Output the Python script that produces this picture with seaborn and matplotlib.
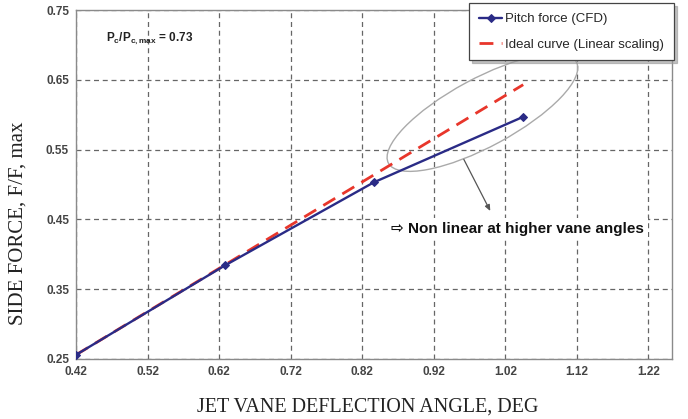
"""
Jet vane side force vs deflection angle (CFD vs ideal linear scaling)
"""
import numpy as np
import pandas as pd
import matplotlib
matplotlib.use("Agg")
import matplotlib.pyplot as plt
from matplotlib.patches import Ellipse
import seaborn as sns

# data
cfd_angle = [0.42, 0.628, 0.836, 1.045]
cfd_force = [0.256, 0.384, 0.503, 0.597]
ideal_angle = [0.42, 1.045]
ideal_force = [0.256, 0.643]
x_ticks = [0.42, 0.52, 0.62, 0.72, 0.82, 0.92, 1.02, 1.12, 1.22]
y_ticks = [0.25, 0.35, 0.45, 0.55, 0.65, 0.75]

sns.set_style("white")
plt.rcParams['font.family'] = ['Liberation Sans', 'DejaVu Sans']
plt.rcParams['mathtext.fontset'] = 'custom'
plt.rcParams['mathtext.bf'] = 'Liberation Sans:bold'
plt.rcParams['mathtext.rm'] = 'Liberation Sans'

cfd = pd.DataFrame({'angle': cfd_angle, 'force': cfd_force})
ideal = pd.DataFrame({'angle': ideal_angle, 'force': ideal_force})

fig = plt.figure(figsize=(6.88, 4.19), dpi=100)
ax = fig.add_axes([0.1105, 0.1432, 0.8663, 0.8329])

# Lines
sns.lineplot(data=ideal, x='angle', y='force', ax=ax, color='#e8362b',
             linewidth=2.0, dashes=False, label='Ideal curve (Linear scaling)',
             zorder=3)
ax.lines[-1].set_dashes([5, 3])
sns.lineplot(data=cfd, x='angle', y='force', ax=ax, color='#2a2b86',
             linewidth=1.7, marker='D', markersize=4.5,
             markeredgecolor='#2a2b86', label='Pitch force (CFD)', zorder=4)

# Axes
ax.set_xlim(0.42, 1.253)
ax.set_ylim(0.25, 0.75)
ax.set_xticks(x_ticks)
ax.set_yticks(y_ticks)
ax.set_xticklabels([f'{v:.2f}' for v in x_ticks])
ax.set_yticklabels([f'{v:.2f}' for v in y_ticks])
ax.tick_params(axis='both', direction='out', length=3, width=0.8,
               color='#777777', labelsize=8.5, labelcolor='#444444', pad=2)
for lab in ax.get_xticklabels() + ax.get_yticklabels():
    lab.set_fontweight('bold')
ax.grid(True, linestyle=(0, (4, 3)), color='#666666', linewidth=0.9)
for sp in ax.spines.values():
    sp.set_color('#8a8a8a')
    sp.set_linewidth(1.0)

ax.set_xlabel('JET VANE DEFLECTION ANGLE, DEG', family='Liberation Serif',
              fontsize=14.5, color='#222222')
ax.xaxis.set_label_coords(0.49, -0.11)
ax.set_ylabel('SIDE FORCE, F/F, max', family='Liberation Serif',
              fontsize=15, color='#222222')
ax.yaxis.set_label_coords(-0.082, 0.39)

# Legend
handles, labels = ax.get_legend_handles_labels()
leg = ax.legend(handles[::-1], labels[::-1], loc='upper right',
                bbox_to_anchor=(1.003, 1.02), borderaxespad=0,
                fontsize=9.5, frameon=True, fancybox=False,
                edgecolor='#444444', handlelength=1.8, labelspacing=1.0,
                borderpad=0.75, handletextpad=0.2,
                shadow={'color': '#999999', 'alpha': 0.6})
leg.get_frame().set_linewidth(0.9)
leg.set_zorder(6)

# Annotations
ax.text(0.05, 0.918, r'$\mathbf{P_c/P_{c,max}}$ = 0.73', transform=ax.transAxes,
        fontsize=8.5, fontweight='bold', color='#222222', va='center')

ell = Ellipse((0.988, 0.603), 0.30, 0.097, angle=29, fill=False,
              edgecolor='#aaaaaa', linewidth=1.0, zorder=2)
ax.add_patch(ell)
ax.annotate('', xy=(0.999, 0.462), xytext=(0.962, 0.536),
            arrowprops=dict(arrowstyle='-|>,head_length=0.35,head_width=0.15',
                            color='#555555', lw=0.9, shrinkA=0, shrinkB=0))
ax.text(0.528, 0.372, '\u21e8 Non linear at higher vane angles',
        transform=ax.transAxes, fontsize=11, fontweight='bold',
        color='#111111', va='center', ha='left',
        bbox=dict(facecolor='white', edgecolor='none', pad=3), zorder=5)

fig.savefig('out.png', dpi=100)
